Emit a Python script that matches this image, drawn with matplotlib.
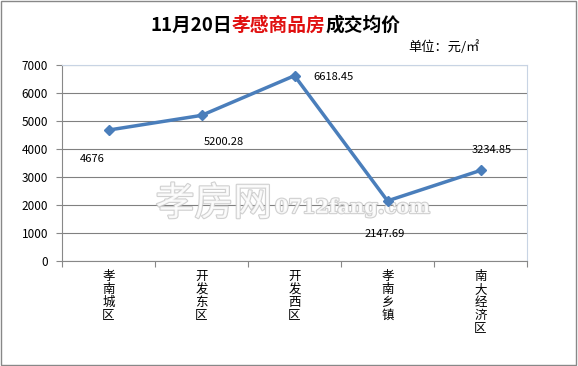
import matplotlib
matplotlib.use('Agg')
import matplotlib.pyplot as plt
import matplotlib.patheffects as pe
from matplotlib.patches import Rectangle

plt.rcParams['font.family'] = ['Noto Sans CJK SC', 'DejaVu Sans']

districts = ['孝南城区', '开发东区', '开发西区', '孝南乡镇', '南大经济区']
prices = [4676, 5200.28, 6618.45, 2147.69, 3234.85]
price_labels = ['4676', '5200.28', '6618.45', '2147.69', '3234.85']
yticks = [0, 1000, 2000, 3000, 4000, 5000, 6000, 7000]

fig = plt.figure(figsize=(5.78, 3.66), dpi=100)
ax = fig.add_axes([62 / 578, 1 - 261 / 366, 465 / 578, 196 / 366])

x = range(len(districts))
ax.plot(x, prices, color='#4a7ebb', lw=2.5, marker='D', ms=5, zorder=3)

ax.set_xlim(-0.5, len(districts) - 0.5)
ax.set_ylim(0, 7000)
ax.set_yticks(yticks)
ax.set_yticklabels([str(v) for v in yticks], fontsize=8.5)
ax.set_xticks([i - 0.5 for i in range(len(districts) + 1)])
ax.set_xticklabels([])
ax.tick_params(axis='x', length=4, color='#888888')
ax.tick_params(axis='y', length=4, color='#888888', pad=6)
ax.grid(axis='y', color='#808080', lw=0.8)
ax.set_axisbelow(True)
for s in ['left', 'bottom']:
    ax.spines[s].set_color('#888888')
for s in ['top', 'right']:
    ax.spines[s].set_color('#c8d4e4')

# vertical category labels
for i, name in enumerate(districts):
    ax.text(i, -330, '\n'.join(name), ha='center', va='top', fontsize=9,
            linespacing=1.0)

# data labels
offsets = [(-12, -21), (16, -19), (28, -1), (-2, -24), (8, 15)]
for i, (v, lab) in enumerate(zip(prices, price_labels)):
    ax.annotate(lab, (i, v), xytext=offsets[i], textcoords='offset points',
                ha='center', va='center', fontsize=8)

# watermark
wm = ax.text(0.452, 0.29, '孝房网', transform=ax.transAxes, fontsize=28,
             ha='right', va='center', color='white', alpha=0.85, zorder=2)
wm.set_path_effects([pe.Stroke(linewidth=1.6, foreground='#c8c8c8'), pe.Normal()])
wm2 = ax.text(0.458, 0.27, '0712fang.com', transform=ax.transAxes, fontsize=14,
              ha='left', va='center', color='white', alpha=0.85, zorder=2,
              family='DejaVu Serif', fontweight='bold')
wm2.set_path_effects([pe.Stroke(linewidth=1.6, foreground='#c8c8c8'), pe.Normal()])

# title with coloured middle part
ty = 1 - 31 / 366
t1 = fig.text(150 / 578, ty, '11月20日', fontsize=13.5,
              fontweight='bold', ha='left', va='baseline')
t2 = fig.text(0, ty, '孝感商品房', fontsize=13.5, fontweight='bold',
              color='#e01010', va='baseline')
t3 = fig.text(0, ty, '成交均价', fontsize=13.5, fontweight='bold', va='baseline')
fig.canvas.draw()
r = fig.canvas.get_renderer()
bb1 = t1.get_window_extent(r)
t2.set_position((bb1.x1 / fig.bbox.width, ty))
fig.canvas.draw()
bb2 = t2.get_window_extent(r)
t3.set_position((bb2.x1 / fig.bbox.width, ty))

fig.text(480 / 578, 1 - 47 / 366, '单位：元/㎡', fontsize=9.5,
         ha='right', va='center')

fig.patches.append(Rectangle((0.002, 0.003), 0.995, 0.993,
                             transform=fig.transFigure, fill=False,
                             edgecolor='#888888', lw=1))

fig.savefig('out.png', dpi=100)
